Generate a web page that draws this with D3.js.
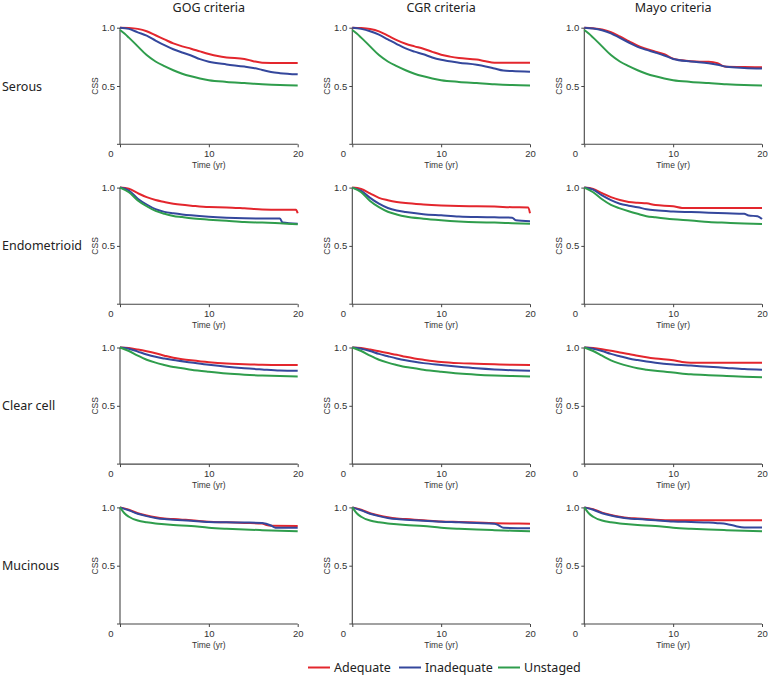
<!DOCTYPE html>
<html><head><meta charset="utf-8">
<script src="https://cdn.jsdelivr.net/npm/d3@7"></script>
<style>body{margin:0;background:#fff;} svg{display:block;font-family:"Noto Sans",sans-serif;}</style>
</head><body>
<svg id="c" width="768" height="677"></svg>
<script>
const histologies = ["Serous","Endometrioid","Clear cell","Mucinous"];
const criteria = ["GOG criteria","CGR criteria","Mayo criteria"];
const groups = ["Adequate","Inadequate","Unstaged"];
const xTicks = [0,10,20];
const yTicks = [0,0.5,1.0];

// each histology: [criterion][group] -> [time (yr), CSS]
const serous = [
 [ [[0,1],[1,0.998],[2,0.99],[3,0.97],[4,0.935],[5,0.9],[6,0.865],[7,0.84],[8,0.82],[9,0.797],[10,0.775],[11,0.757],[12,0.745],[14,0.732],[15,0.713],[16,0.70],[18,0.698],[20,0.698]],
   [[0,1],[1,0.99],[2,0.96],[3,0.932],[4,0.89],[5,0.85],[6,0.815],[7,0.787],[8,0.762],[9,0.73],[10,0.708],[12,0.685],[14,0.667],[15,0.655],[16,0.638],[17,0.62],[18,0.61],[20,0.60]],
   [[0,0.98],[0.5,0.95],[1,0.915],[2,0.84],[3,0.765],[4,0.71],[5,0.67],[6,0.635],[7,0.605],[8,0.583],[9,0.565],[10,0.55],[12,0.535],[14,0.525],[16,0.515],[18,0.508],[20,0.505]] ],
 [ [[0,1],[1,0.997],[2,0.988],[3,0.968],[4,0.932],[5,0.893],[6,0.862],[7,0.84],[8,0.82],[9,0.793],[10,0.768],[11,0.752],[12,0.74],[14,0.727],[15,0.712],[16,0.70],[18,0.70],[20,0.70]],
   [[0,1],[1,0.99],[2,0.97],[3,0.94],[4,0.90],[5,0.86],[6,0.822],[7,0.795],[8,0.772],[9,0.745],[10,0.725],[12,0.70],[14,0.682],[15,0.668],[16,0.65],[17,0.632],[18,0.628],[20,0.623]],
   [[0,0.98],[0.5,0.95],[1,0.915],[2,0.84],[3,0.765],[4,0.71],[5,0.67],[6,0.635],[7,0.605],[8,0.583],[9,0.565],[10,0.55],[12,0.535],[14,0.525],[16,0.515],[18,0.508],[20,0.505]] ],
 [ [[0,1],[1,0.995],[2,0.985],[3,0.962],[4,0.925],[5,0.885],[6,0.845],[7,0.818],[8,0.795],[9,0.772],[10,0.735],[11,0.72],[12,0.712],[13,0.708],[14,0.708],[15,0.695],[15.5,0.675],[16,0.665],[18,0.663],[20,0.66]],
   [[0,1],[1,0.993],[2,0.978],[3,0.952],[4,0.912],[5,0.873],[6,0.835],[7,0.81],[8,0.787],[9,0.762],[10,0.732],[12,0.71],[14,0.695],[15,0.682],[16,0.665],[18,0.655],[20,0.65]],
   [[0,0.98],[0.5,0.95],[1,0.915],[2,0.84],[3,0.765],[4,0.71],[5,0.67],[6,0.635],[7,0.605],[8,0.583],[9,0.565],[10,0.55],[12,0.535],[14,0.525],[16,0.515],[18,0.508],[20,0.505]] ]
];
const endometrioid = [
 [ [[0,1],[1,0.99],[2,0.952],[3,0.918],[4,0.893],[5,0.877],[6,0.862],[7,0.852],[8,0.845],[10,0.833],[12,0.83],[14,0.822],[16,0.813],[18,0.81],[19.8,0.81],[20,0.78]],
   [[0,1],[1,0.975],[2,0.905],[3,0.855],[4,0.815],[5,0.792],[6,0.78],[7,0.77],[8,0.762],[10,0.75],[12,0.742],[14,0.737],[16,0.735],[18,0.735],[18.3,0.70],[20,0.69]],
   [[0,1],[1,0.96],[2,0.89],[3,0.84],[4,0.80],[5,0.775],[6,0.757],[7,0.747],[8,0.737],[10,0.725],[12,0.715],[14,0.705],[16,0.70],[18,0.695],[20,0.685]] ],
 [ [[0,1],[1,0.988],[2,0.95],[3,0.912],[4,0.892],[5,0.877],[6,0.867],[8,0.855],[10,0.847],[12,0.842],[14,0.84],[16,0.837],[18,0.832],[19.8,0.83],[20,0.78]],
   [[0,1],[1,0.972],[2,0.912],[3,0.862],[4,0.825],[5,0.803],[6,0.79],[8,0.772],[10,0.762],[12,0.752],[14,0.747],[16,0.745],[18,0.742],[18.4,0.72],[20,0.712]],
   [[0,1],[1,0.96],[2,0.885],[3,0.832],[4,0.793],[5,0.77],[6,0.752],[8,0.733],[10,0.72],[12,0.71],[14,0.703],[16,0.70],[18,0.695],[20,0.69]] ],
 [ [[0,1],[1,0.988],[2,0.952],[3,0.918],[4,0.893],[5,0.877],[6,0.87],[7,0.866],[8,0.85],[10,0.84],[11,0.826],[12,0.825],[16,0.825],[20,0.825]],
   [[0,1],[1,0.982],[2,0.933],[3,0.893],[4,0.862],[5,0.845],[6,0.832],[7,0.815],[8,0.805],[10,0.795],[12,0.79],[14,0.785],[16,0.78],[18,0.775],[18.5,0.76],[19.5,0.755],[20,0.73]],
   [[0,1],[1,0.96],[2,0.9],[3,0.852],[4,0.822],[5,0.797],[6,0.775],[7,0.755],[8,0.745],[10,0.728],[12,0.718],[14,0.705],[16,0.698],[18,0.692],[20,0.688]] ]
];
const clearCell = [
 [ [[0,1],[1,0.995],[2,0.982],[3,0.967],[4,0.95],[5,0.93],[6,0.912],[7,0.9],[8,0.89],[10,0.873],[12,0.862],[14,0.857],[16,0.852],[18,0.85],[20,0.85]],
   [[0,1],[1,0.99],[2,0.965],[3,0.94],[4,0.92],[5,0.905],[6,0.892],[8,0.872],[10,0.852],[12,0.835],[14,0.822],[16,0.812],[18,0.803],[20,0.80]],
   [[0,1],[1,0.97],[2,0.93],[3,0.895],[4,0.87],[5,0.85],[6,0.832],[7,0.822],[8,0.81],[10,0.792],[12,0.777],[14,0.767],[16,0.76],[18,0.755],[20,0.752]] ],
 [ [[0,1],[1,0.995],[2,0.982],[3,0.967],[4,0.952],[5,0.937],[6,0.92],[7,0.906],[8,0.895],[10,0.876],[12,0.866],[14,0.861],[16,0.856],[18,0.852],[20,0.85]],
   [[0,1],[1,0.99],[2,0.97],[3,0.945],[4,0.925],[5,0.906],[6,0.89],[7,0.877],[8,0.866],[10,0.85],[12,0.835],[14,0.822],[16,0.812],[18,0.805],[20,0.80]],
   [[0,1],[1,0.97],[2,0.93],[3,0.895],[4,0.87],[5,0.85],[6,0.832],[7,0.822],[8,0.81],[10,0.792],[12,0.777],[14,0.767],[16,0.76],[18,0.755],[20,0.752]] ],
 [ [[0,1],[1,0.995],[2,0.985],[3,0.972],[4,0.957],[5,0.945],[6,0.93],[7,0.916],[8,0.905],[10,0.89],[11,0.876],[12,0.87],[16,0.87],[20,0.87]],
   [[0,1],[1,0.99],[2,0.97],[3,0.945],[4,0.925],[5,0.906],[6,0.892],[7,0.88],[8,0.87],[10,0.855],[12,0.845],[14,0.835],[16,0.825],[18,0.815],[20,0.81]],
   [[0,1],[1,0.97],[2,0.93],[3,0.89],[4,0.862],[5,0.84],[6,0.822],[7,0.81],[8,0.80],[10,0.785],[12,0.77],[14,0.762],[16,0.756],[18,0.75],[20,0.745]] ]
];
const mucinous = [
 [ [[0,1],[1,0.98],[2,0.95],[3,0.93],[4,0.915],[5,0.905],[6,0.90],[7,0.895],[8,0.89],[10,0.877],[12,0.872],[14,0.867],[16,0.862],[16.5,0.848],[17,0.842],[20,0.84]],
   [[0,1],[1,0.975],[2,0.945],[3,0.925],[4,0.91],[5,0.90],[6,0.895],[7,0.89],[8,0.885],[10,0.875],[12,0.872],[14,0.87],[16,0.867],[17,0.845],[17.5,0.825],[20,0.825]],
   [[0,1],[0.5,0.95],[1,0.92],[2,0.887],[3,0.872],[4,0.862],[5,0.856],[6,0.85],[8,0.84],[10,0.826],[12,0.817],[14,0.81],[16,0.805],[18,0.80],[20,0.795]] ],
 [ [[0,1],[1,0.98],[2,0.95],[3,0.93],[4,0.915],[5,0.905],[6,0.90],[7,0.895],[8,0.89],[10,0.88],[12,0.875],[14,0.87],[16,0.865],[18,0.862],[20,0.86]],
   [[0,1],[1,0.975],[2,0.945],[3,0.925],[4,0.91],[5,0.90],[6,0.895],[7,0.89],[8,0.885],[10,0.877],[12,0.872],[14,0.866],[16,0.86],[16.5,0.845],[17,0.825],[20,0.822]],
   [[0,1],[0.5,0.95],[1,0.92],[2,0.887],[3,0.872],[4,0.862],[5,0.856],[6,0.85],[8,0.84],[10,0.826],[12,0.817],[14,0.81],[16,0.805],[18,0.80],[20,0.795]] ],
 [ [[0,1],[1,0.985],[2,0.955],[3,0.935],[4,0.92],[5,0.91],[6,0.905],[7,0.90],[8,0.895],[10,0.89],[12,0.89],[16,0.89],[20,0.89]],
   [[0,1],[1,0.98],[2,0.95],[3,0.93],[4,0.915],[5,0.905],[6,0.90],[7,0.895],[8,0.89],[10,0.88],[12,0.875],[14,0.87],[15,0.865],[16,0.858],[17,0.84],[18,0.828],[20,0.827]],
   [[0,1],[0.5,0.95],[1,0.92],[2,0.887],[3,0.872],[4,0.862],[5,0.856],[6,0.85],[8,0.84],[10,0.826],[12,0.817],[14,0.81],[16,0.805],[18,0.80],[20,0.795]] ]
];
const panelData = [serous, endometrioid, clearCell, mucinous];
const colors = ["#e3262d","#34479c","#2f9d4c"];

const svg = d3.select("#c");
const colX = [120, 352.3, 584.3];
const plotW = 177.7;
const rowTop = [27.7, 187.6, 347.5, 507.4];
const plotH = 116.6;
const axisColor = "#444";
const smallFont = "Liberation Sans, Arial, sans-serif";

criteria.forEach((c,j)=>{
  svg.append("text").attr("x", colX[j]+plotW/2).attr("y", 11.5)
    .attr("text-anchor","middle").attr("font-size", 12.5).attr("fill","#222").text(c);
});
histologies.forEach((h,i)=>{
  svg.append("text").attr("x", 2).attr("y", rowTop[i]+plotH/2+4.5)
    .attr("font-size", 12.5).attr("fill","#222").text(h);
});

histologies.forEach((h,i)=>{
  criteria.forEach((c,j)=>{
    const x = d3.scaleLinear().domain([0,20]).range([colX[j], colX[j]+plotW]);
    const y = d3.scaleLinear().domain([0,1]).range([rowTop[i]+plotH, rowTop[i]]);
    const g = svg.append("g");
    const ya = g.append("g").attr("transform",`translate(${colX[j]},0)`)
      .call(d3.axisLeft(y).tickValues([0.5,1.0]).tickFormat(d3.format(".1f")).tickSize(3).tickPadding(2));
    ya.append("line").attr("x1",0).attr("x2",-3).attr("y1",y(0)).attr("y2",y(0)).attr("stroke",axisColor);
    const xa = g.append("g").attr("transform",`translate(0,${rowTop[i]+plotH})`)
      .call(d3.axisBottom(x).tickValues(xTicks).tickFormat(d=> d===0?"":d).tickSize(3).tickPadding(3));
    [ya,xa].forEach(a=>{
      a.select(".domain").attr("stroke",axisColor).attr("stroke-width",1.1);
      a.selectAll(".tick line").attr("stroke",axisColor);
      a.selectAll("text").attr("font-size",9.5).attr("fill","#333").attr("font-family",smallFont);
    });
    xa.select(".domain").attr("d",`M${x(0)},0H${x(20)}`);
    ya.select(".domain").attr("d",`M0,${y(0)}V${y(1)}`);
    g.append("text").attr("x", x(0)-9).attr("y", y(0)+13).attr("text-anchor","middle")
      .attr("font-family",smallFont).attr("font-size",9.5).attr("fill","#333").text(yTicks[0]);
    g.append("text").attr("x", x(10)).attr("y", y(0)+23.5).attr("text-anchor","middle")
      .attr("font-family",smallFont).attr("font-size",8.5).attr("fill","#333").text("Time (yr)");
    g.append("text").attr("transform",`translate(${colX[j]-25},${y(0.5)}) rotate(-90)`)
      .attr("text-anchor","middle").attr("dy","0.35em").attr("font-family",smallFont)
      .attr("font-size",8.5).attr("fill","#333").text("CSS");
    const line = d3.line().x(d=>x(d[0])).y(d=>y(d[1])).curve(d3.curveMonotoneX);
    [0,1,2].forEach(k=>{
      g.append("path").datum(panelData[i][j][k]).attr("d",line)
        .attr("fill","none").attr("stroke",colors[k]).attr("stroke-width",2).attr("stroke-linejoin","round");
    });
  });
});

const legX = [308, 399, 498];
groups.forEach((gname,k)=>{
  svg.append("line").attr("x1",legX[k]).attr("x2",legX[k]+22).attr("y1",667.5).attr("y2",667.5)
    .attr("stroke",colors[k]).attr("stroke-width",2);
  svg.append("text").attr("x",legX[k]+26).attr("y",672).attr("font-size",12.5).attr("fill","#222").text(gname);
});
</script>
</body></html>
